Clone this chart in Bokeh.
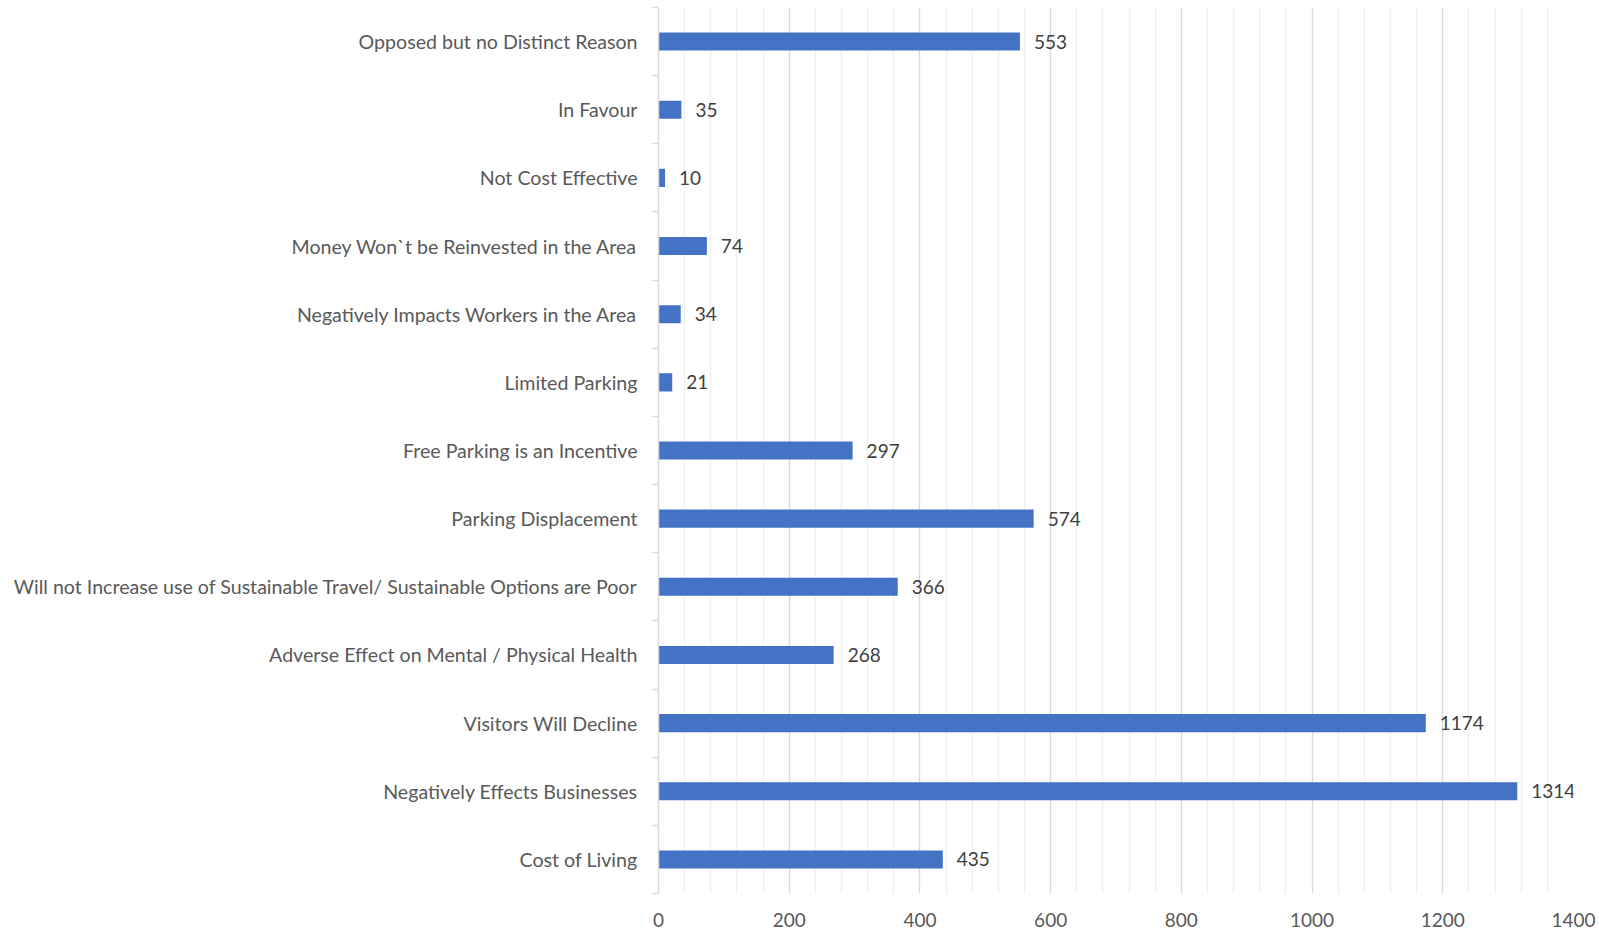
from bokeh.plotting import figure
from bokeh.models import Range1d, FixedTicker, SingleIntervalTicker, ColumnDataSource
from bokeh.core.properties import value
from bokeh.embed import file_html
from bokeh.resources import INLINE

# data, bottom to top
categories = [
    "Cost of Living",
    "Negatively Effects Businesses",
    "Visitors Will Decline",
    "Adverse Effect on Mental / Physical Health",
    "Will not Increase use of Sustainable Travel/ Sustainable Options are Poor",
    "Parking Displacement",
    "Free Parking is an Incentive",
    "Limited Parking",
    "Negatively Impacts Workers in the Area",
    "Money Won`t be Reinvested in the Area",
    "Not Cost Effective",
    "In Favour",
    "Opposed but no Distinct Reason",
]
counts = [435, 1314, 1174, 268, 366, 574, 297, 21, 34, 74, 10, 35, 553]

FONT = "Lato"
n = len(categories)
pos = [i + 0.5 for i in range(n)]

src = ColumnDataSource(dict(y=pos, v=counts, lab=[str(c) for c in counts]))

p = figure(width=1599, height=934, output_backend="svg", toolbar_location=None,
           x_range=Range1d(0, 1400), y_range=Range1d(0, n),
           min_border_left=658, min_border_right=26, min_border_top=7,
           min_border_bottom=41)
p.outline_line_color = None
p.background_fill_color = "white"
p.border_fill_color = "white"

p.hbar(y="y", right="v", left=0, height=0.265, source=src,
       fill_color="#4472C4", line_color=None)
p.text(x="v", y="y", text="lab", source=src, x_offset=14,
       text_baseline="middle", text_align="left",
       text_font=value(FONT), text_font_size="19px", text_color="#404040")

# x axis
xt = SingleIntervalTicker(interval=200, num_minor_ticks=5)
p.xaxis.ticker = xt
p.xgrid.ticker = xt
p.xgrid.grid_line_color = "#d9d9d9"
p.xgrid.grid_line_width = 1.3
p.xgrid.minor_grid_line_color = "#efefef"
p.xgrid.minor_grid_line_width = 1.3
p.ygrid.grid_line_color = None
p.xaxis.axis_line_color = None
p.xaxis.major_tick_line_color = None
p.xaxis.minor_tick_line_color = None
p.xaxis.major_tick_out = 0
p.xaxis.minor_tick_out = 0
p.xaxis.major_label_standoff = 19
p.xaxis.major_label_text_font = FONT
p.xaxis.major_label_text_font_size = "19px"
p.xaxis.major_label_text_color = "#595959"

# y axis
p.yaxis.ticker = FixedTicker(ticks=pos, minor_ticks=list(range(n + 1)))
p.yaxis.major_label_overrides = {v: c for v, c in zip(pos, categories)}
p.yaxis.axis_line_color = "#d9d9d9"
p.yaxis.axis_line_width = 1.5
p.yaxis.major_tick_line_color = None
p.yaxis.major_tick_out = 0
p.yaxis.minor_tick_line_color = "#d9d9d9"
p.yaxis.minor_tick_line_width = 1.5
p.yaxis.minor_tick_out = 6
p.yaxis.minor_tick_in = 0
p.yaxis.major_label_standoff = 15
p.yaxis.major_label_text_font = FONT
p.yaxis.major_label_text_font_size = "19.6px"
p.yaxis.major_label_text_color = "#595959"

open("out.html", "w").write(file_html(p, INLINE))
